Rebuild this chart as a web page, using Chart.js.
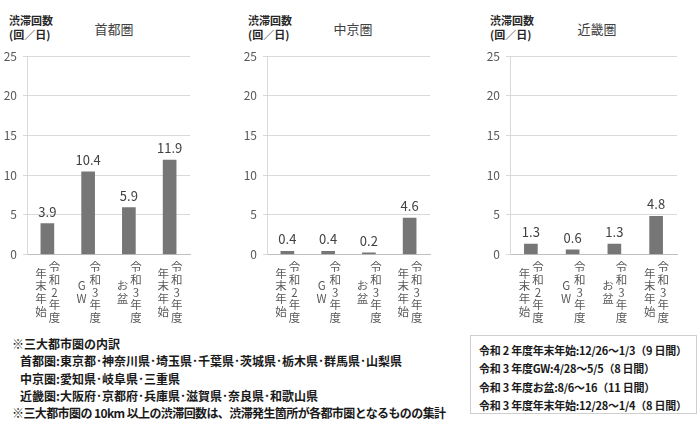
<!DOCTYPE html>
<html lang="ja">
<head>
<meta charset="utf-8">
<script src="https://cdn.jsdelivr.net/npm/chart.js@4.4.1/dist/chart.umd.min.js"></script>
<style>
  body { margin: 0; width: 700px; height: 435px; background: #fff; position: relative; overflow: hidden;
         font-family: 'Noto Sans CJK JP', sans-serif; }
  canvas { position: absolute; top: 0; }
  .area { position: absolute; top: 19px; font-size: 13px; color: #404040; transform: translateX(-50%); white-space: nowrap; }
  .ytitle { position: absolute; top: 13px; font-size: 11px; font-weight: bold; line-height: 14px; color: #262626; white-space: nowrap; }
  .notes { position: absolute; left: 12px; top: 335px; font-size: 12px; font-weight: bold; line-height: 17.3px; color: #1a1a1a; white-space: nowrap; }
  .notes .in { padding-left: 8px; }
  .notes .tight { letter-spacing: -0.6px; }
  .box { position: absolute; left: 470px; top: 335px; width: 227px; height: 79px; border: 1px solid #cfcfcf;
         box-sizing: border-box; padding: 5px 0 0 8px; font-size: 11px; font-weight: bold; line-height: 18.3px;
         letter-spacing: -0.25px; color: #1a1a1a; white-space: nowrap; }
</style>
</head>
<body>
<div class="ytitle" style="left:9px">渋滞回数<br>(回／日)</div>
<div class="ytitle" style="left:248px">渋滞回数<br>(回／日)</div>
<div class="ytitle" style="left:490px">渋滞回数<br>(回／日)</div>
<div class="area" id="t0" style="left:114px"></div>
<div class="area" id="t1" style="left:353px"></div>
<div class="area" id="t2" style="left:597px"></div>

<canvas id="c0" width="200" height="330" style="left:0px"></canvas>
<canvas id="c1" width="210" height="330" style="left:230px"></canvas>
<canvas id="c2" width="225" height="330" style="left:465px"></canvas>

<div class="notes">
  <div>※三大都市圏の内訳</div>
  <div class="in">首都圏:東京都･神奈川県･埼玉県･千葉県･茨城県･栃木県･群馬県･山梨県</div>
  <div class="in">中京圏:愛知県･岐阜県･三重県</div>
  <div class="in">近畿圏:大阪府･京都府･兵庫県･滋賀県･奈良県･和歌山県</div>
  <div class="tight">※三大都市圏の 10km 以上の渋滞回数は、渋滞発生箇所が各都市圏となるものの集計</div>
</div>
<div class="box">
  <div>令和 2 年度年末年始:12/26～1/3（9 日間）</div>
  <div>令和 3 年度GW:4/28～5/5（8 日間）</div>
  <div>令和 3 年度お盆:8/6～16（11 日間）</div>
  <div>令和 3 年度年末年始:12/28～1/4（8 日間）</div>
</div>

<script>
// データ
const periods = ['令和2年度', '令和3年度', '令和3年度', '令和3年度']; // 右列の縦書きラベル
const seasons = ['年末年始', 'GW', 'お盆', '年末年始'];               // 左列の縦書きラベル
const areaNames = ['首都圏', '中京圏', '近畿圏'];
const shutoValues = [3.9, 10.4, 5.9, 11.9];
const chukyoValues = [0.4, 0.4, 0.2, 4.6];
const kinkiValues = [1.3, 0.6, 1.3, 4.8];
const yTicks = [0, 5, 10, 15, 20, 25];

const FONT = "'Noto Sans CJK JP', sans-serif";

// 縦書きのカテゴリラベルを描く
const verticalLabels = {
  id: 'verticalLabels',
  afterDraw(chart) {
    const ctx = chart.ctx;
    const xs = chart.scales.x;
    const step = 12.7;
    ctx.save();
    ctx.font = '11.5px ' + FONT;
    ctx.fillStyle = '#595959';
    ctx.textAlign = 'center';
    ctx.textBaseline = 'middle';
    periods.forEach((p, i) => {
      const x = xs.getPixelForValue(i);
      const top = xs.top + 12.5;
      [...p].forEach((ch, j) => ctx.fillText(ch, x + 7, top + j * step));
      const sub = [...seasons[i]];
      const mid = top + 2 * step; // 右列の中央にそろえる
      sub.forEach((ch, j) => ctx.fillText(ch, x - 6.5, mid + (j - (sub.length - 1) / 2) * step));
    });
    ctx.restore();
  }
};

// 棒の上に数値を書く
const valueLabels = {
  id: 'valueLabels',
  afterDatasetsDraw(chart) {
    const ctx = chart.ctx;
    const data = chart.data.datasets[0].data;
    ctx.save();
    ctx.font = '13px ' + FONT;
    ctx.fillStyle = '#404040';
    ctx.textAlign = 'center';
    ctx.textBaseline = 'alphabetic';
    chart.getDatasetMeta(0).data.forEach((bar, i) => {
      ctx.fillText(data[i].toFixed(1), bar.x, bar.y - 7);
    });
    ctx.restore();
  }
};

function makeChart(id, values, axisWidth, padRight) {
  const ctx = document.getElementById(id).getContext('2d');
  return new Chart(ctx, {
    type: 'bar',
    data: {
      labels: periods.map((p, i) => p + seasons[i]),
      datasets: [{
        data: values,
        backgroundColor: '#767676',
        borderWidth: 0,
        barThickness: 13
      }]
    },
    options: {
      responsive: false,
      animation: false,
      layout: { padding: { top: 56, right: padRight, left: 0, bottom: 0 } },
      plugins: { legend: { display: false }, tooltip: { enabled: false } },
      scales: {
        x: {
          ticks: { display: false },
          grid: { display: false },
          border: { display: true, color: '#bfbfbf', width: 1 },
          afterFit: s => { s.height = 75.5; }
        },
        y: {
          min: 0,
          max: 25,
          afterBuildTicks: s => { s.ticks = yTicks.map(v => ({ value: v })); },
          ticks: { color: '#595959', font: { family: FONT, size: 12 }, padding: 6 },
          grid: { color: '#d9d9d9', tickLength: 4, tickColor: '#d9d9d9' },
          border: { display: true, color: '#d9d9d9' },
          afterFit: s => { s.width = axisWidth; }
        }
      }
    },
    plugins: [verticalLabels, valueLabels]
  });
}

areaNames.forEach((n, i) => { document.getElementById('t' + i).textContent = n; });
makeChart('c0', shutoValues, 27, 10);
makeChart('c1', chukyoValues, 37, 10);
makeChart('c2', kinkiValues, 45, 13);
</script>
</body>
</html>
